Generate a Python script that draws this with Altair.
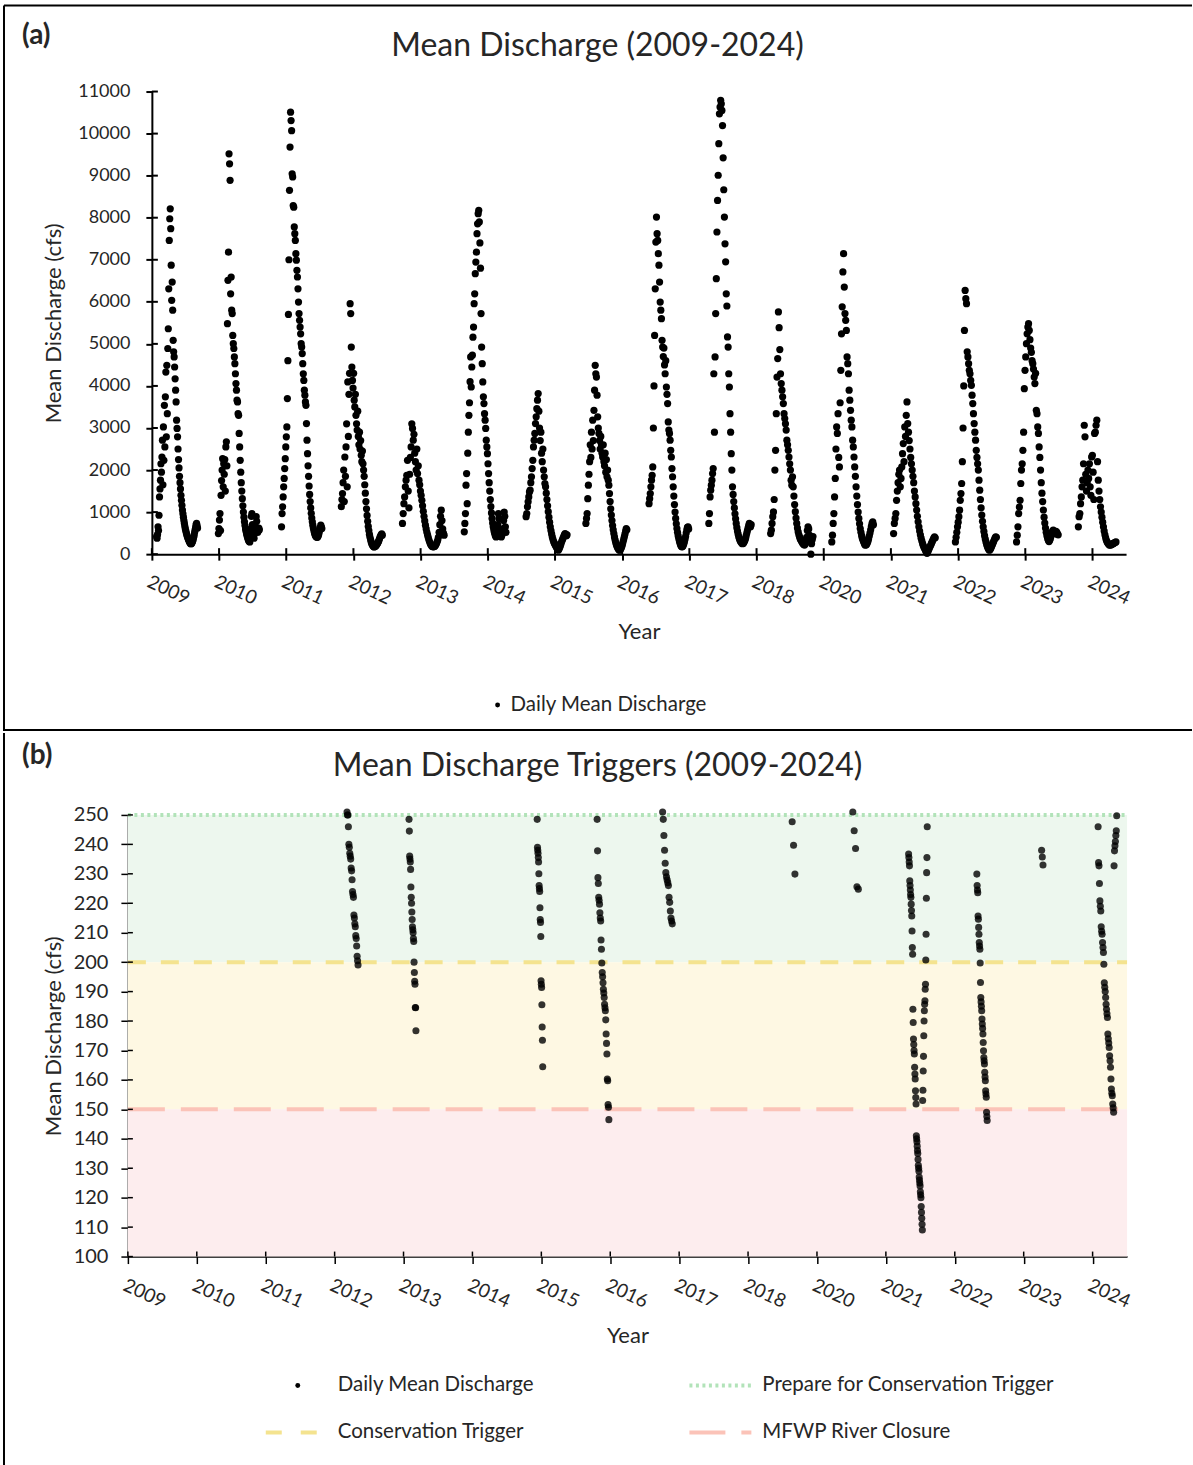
import altair as alt
import pandas as pd

FONT = "Lato"
TEXT = "#262626"

# ---------------------------------------------------------------- categories
YEAR_LABELS = ["2009", "2010", "2011", "2012", "2013", "2014", "2015", "2016",
               "2017", "2018", "2020", "2021", "2022", "2023", "2024"]
TICK_POS = list(range(len(YEAR_LABELS)))
AXIS_END = 14.5
DISCHARGE_TICKS = list(range(0, 11001, 1000))
TRIGGER_TICKS = list(range(100, 251, 10))

# ------------------------------------------- (a) daily mean discharge, cfs
Q2009 = [420, 380, 470, 650, 560, 925, 1360, 1550, 1760, 2150, 1950, 2310, 2710, 1650, 3025, 2230, 3540, 2550,
         3740, 4330, 2790, 4490, 3340, 4890, 5360, 6310, 7460, 7975, 8210, 7740, 6870, 6035, 6470, 5800, 5085,
         4810, 4690, 4450, 4170, 3900, 3620, 3185, 2990, 2790, 2500, 2250, 2050, 1850, 1700, 1550, 1400, 1280,
         1160, 1050, 960, 880, 800, 730, 660, 600, 550, 500, 460, 420, 390, 360, 330, 300, 280, 260, 250, 250,
         260, 280, 310, 350, 400, 450, 520, 580, 640, 700, 730, 680, 620]
Q2010 = [490, 610, 810, 965, 560, 1400, 1750, 2000, 2270, 1600, 2150, 1900, 2250, 1500, 2550, 2670, 2100, 5480,
         6510, 7180, 9520, 9280, 8890, 6190, 6590, 5800, 5720, 5200, 5005, 4890, 4690, 4530, 4290, 4055, 3900,
         3660, 3620, 3340, 3300, 2870, 2550, 2230, 1950, 1700, 1500, 1320, 1150, 1000, 880, 770, 680, 600, 540,
         480, 430, 390, 350, 320, 300, 290, 420, 600, 900, 965, 700, 520, 430, 380, 500, 560, 650, 890, 780,
         600, 520, 560, 620, 580]
Q2011 = [650, 965, 1125, 1360, 1600, 1800, 2035, 2270, 2550, 2790, 3025, 3700, 4600, 5700, 7000, 8650, 9680,
         10510, 10310, 10070, 9045, 8970, 8290, 8250, 7780, 7620, 7460, 7145, 6990, 6750, 6590, 6310, 5995,
         5720, 5560, 5400, 5240, 5005, 4925, 4770, 4530, 4290, 4130, 3900, 3780, 3620, 3540, 3105, 2710, 2390,
         2100, 1850, 1620, 1420, 1250, 1100, 970, 860, 770, 690, 620, 560, 510, 470, 440, 420, 410, 400, 410,
         430, 470, 520, 580, 630, 690, 650, 610]
Q2012 = [1130, 1300, 1440, 1700, 2000, 1250, 2310, 1850, 2550, 3100, 1600, 4095, 2800, 3800, 4300, 5955, 5720,
         4925, 4450, 4130, 3950, 4300, 3660, 3500, 3800, 3300, 3100, 2950, 3400, 2800, 2600, 2900, 2500, 2700,
         2350, 2200, 2450, 2150, 2000, 1850, 1650, 1450, 1250, 1080, 920, 780, 660, 560, 470, 400, 340, 290,
         250, 220, 200, 180, 170, 180, 190, 200, 220, 240, 260, 290, 320, 360, 400, 430, 460, 480, 450]
Q2013 = [730, 965, 1200, 1360, 1600, 1760, 1875, 2230, 1500, 1100, 1900, 2300, 2550, 3100, 2990, 2710, 2850,
         2400, 2200, 2000, 2500, 1915, 2100, 1760, 1650, 1500, 1400, 1280, 1150, 1020, 900, 790, 690, 600, 520,
         450, 390, 330, 280, 240, 210, 190, 180, 175, 180, 190, 210, 240, 280, 330, 400, 520, 700, 900, 1045,
         800, 600, 500, 450]
Q2014 = [530, 730, 965, 1640, 1915, 1200, 2400, 2900, 3300, 3600, 4100, 4690, 3975, 4450, 4730, 5160, 5400,
         5955, 6190, 6670, 6945, 7180, 7620, 7855, 8095, 8175, 7900, 7400, 6800, 5720, 4925, 4530, 4095, 3740,
         3580, 3340, 3185, 2990, 2710, 2550, 2390, 2150, 1915, 1700, 1500, 1300, 1130, 980, 850, 740, 650, 580,
         520, 470, 430, 410, 420, 480, 700, 965, 850, 600, 480, 430, 410, 450, 520, 600, 800, 1000, 900, 650,
         520]
Q2015 = [890, 965, 1125, 1245, 1360, 1480, 1520, 1700, 1840, 2035, 2230, 2550, 2710, 2870, 3105, 3265, 3460,
         3660, 3820, 3400, 3000, 2700, 2900, 2400, 2200, 2500, 2000, 1840, 1680, 1600, 1450, 1300, 1150, 1010,
         880, 760, 650, 560, 480, 410, 350, 300, 260, 230, 200, 170, 140, 110, 95, 120, 160, 200, 250, 300, 340,
         380, 420, 460, 490, 470, 440, 460]
Q2016 = [730, 850, 965, 1320, 1640, 1900, 2200, 2600, 2300, 2900, 2500, 3185, 2700, 3420, 3900, 4490, 4290,
         4210, 3780, 3265, 3000, 2870, 2700, 2500, 2800, 2600, 2400, 2310, 2600, 2200, 2100, 2400, 1950, 2250,
         1840, 2000, 1760, 1640, 1440, 1250, 1080, 930, 800, 680, 580, 490, 410, 340, 280, 230, 190, 160, 130,
         110, 95, 100, 120, 150, 190, 240, 300, 360, 420, 480, 550, 610, 580]
Q2017 = [1200, 1320, 1440, 1600, 1760, 1875, 2075, 3000, 4000, 5200, 6310, 7420, 8015, 7620, 7460, 7145, 6870,
         6470, 5995, 5800, 5600, 5085, 4925, 4700, 4900, 4500, 4290, 4600, 3975, 3800, 3580, 3145, 2950, 2870,
         2710, 2470, 2310, 2035, 1840, 1600, 1380, 1180, 1000, 850, 720, 610, 520, 440, 370, 310, 260, 220,
         190, 175, 180, 200, 240, 290, 350, 420, 500, 580, 640, 650, 600]
Q2018 = [730, 965, 1360, 1520, 1640, 1760, 1915, 2035, 4290, 2900, 4690, 5720, 6550, 7660, 8410, 9010, 9760,
         10470, 10630, 10790, 10710, 10550, 10190, 9425, 8665, 8015, 7380, 6950, 6190, 5900, 5165, 4925, 4290,
         3975, 3340, 2900, 2390, 2000, 1600, 1420, 1250, 1100, 960, 840, 730, 630, 550, 480, 420, 370, 330, 300,
         280, 260, 250, 255, 270, 300, 330, 380, 440, 500, 560, 620, 680, 730, 690, 650, 700]
Q2019 = [490, 570, 730, 890, 1005, 1300, 2000, 2470, 3340, 4210, 4650, 5760, 5385, 4865, 4290, 4055, 3900, 3740,
         3580, 3340, 3225, 3100, 2950, 2710, 2600, 2470, 2310, 2150, 2000, 1760, 1640, 1840, 1600, 1380, 1180,
         1010, 860, 730, 620, 530, 460, 410, 360, 330, 300, 270, 250, 230, 215, 240, 290, 400, 560, 650, 600,
         450, 300, 0, 250, 350, 420]
Q2020 = [290, 450, 730, 965, 1360, 1800, 2500, 3025, 2870, 3340, 2300, 2075, 3600, 4370, 5240, 5880, 6710, 7145,
         6350, 5720, 5560, 5320, 4690, 4530, 4290, 3900, 3660, 3420, 3185, 3025, 2710, 2550, 2310, 2075, 1850,
         1600, 1380, 1180, 1000, 850, 720, 610, 520, 440, 380, 330, 290, 250, 220, 215, 230, 260, 300, 360, 430,
         500, 580, 660, 730, 770, 700]
Q2021 = [490, 730, 850, 965, 1280, 1500, 1700, 1900, 2000, 1600, 1800, 2075, 2390, 2630, 2200, 3025, 2800, 3300,
         3620, 3105, 2900, 2700, 2500, 2300, 2150, 2000, 1850, 1700, 1500, 1360, 1200, 1050, 900, 770, 650, 550,
         460, 380, 310, 250, 200, 160, 120, 80, 55, 20, 60, 100, 140, 180, 220, 260, 300, 340, 380, 410, 390]
Q2022 = [290, 400, 520, 650, 760, 890, 1045, 1280, 1440, 1680, 2200, 3000, 4000, 5320, 6270, 6075, 5955, 4810,
         4690, 4530, 4370, 4290, 4130, 4015, 3780, 3580, 3340, 3105, 2900, 2710, 2470, 2300, 2150, 2000, 1760,
         1520, 1300, 1100, 930, 780, 650, 540, 440, 360, 290, 230, 180, 140, 110, 95, 110, 140, 180, 220, 260,
         300, 340, 380, 410, 400]
Q2023 = [290, 450, 650, 965, 1120, 1280, 1680, 2000, 2150, 2470, 2900, 3935, 4370, 4690, 5005, 5240, 5400, 5480,
         5320, 5100, 4900, 4800, 4600, 4530, 4400, 4210, 4055, 4300, 3420, 3340, 3025, 2870, 2550, 2300, 2000,
         1700, 1450, 1250, 1050, 880, 740, 620, 520, 440, 380, 330, 300, 330, 380, 450, 500, 550, 570, 520, 480,
         500, 540, 520, 480, 460]
Q2024 = [650, 890, 965, 1200, 1360, 1600, 1760, 2150, 3065, 2790, 1900, 1500, 1700, 2000, 1800, 2150, 1600, 1400,
         2310, 2350, 1950, 1300, 2870, 2900, 3065, 3185, 2200, 1760, 1500, 1300, 1125, 1000, 880, 760, 650, 550,
         460, 390, 330, 290, 260, 240, 220, 215, 220, 230, 240, 250, 260, 270, 280, 290]

SEASONS = [Q2009, Q2010, Q2011, Q2012, Q2013, Q2014, Q2015, Q2016,
           Q2017, Q2018, Q2019, Q2020, Q2021, Q2022, Q2023, Q2024]
# first and last record of every season on the category axis (tick units)
SEASON_START = [0.07, 0.99, 1.93, 2.82, 3.73, 4.65, 5.57, 6.46, 7.40, 8.29, 9.21, 10.12, 11.04, 11.96, 12.87, 13.79]
SEASON_END = [0.68, 1.60, 2.53, 3.43, 4.35, 5.27, 6.18, 7.07, 7.99, 8.92, 9.84, 10.74, 11.66, 12.57, 13.49, 14.35]

# ------------------------- (b) days with discharge inside the 100-250 cfs window
LOW_RUN_START = [3.18, 4.08, 5.94, 6.81, 7.76, 9.64, 10.52, 11.33, 12.32, 13.26, 14.08]
LOW_RUN_END = [3.34, 4.18, 6.02, 6.98, 7.90, 9.68, 10.60, 11.60, 12.47, 13.28, 14.35]
LOW_RUNS = [
    [251, 250, 250, 246, 240, 239, 237, 236, 235, 232, 231, 228, 224, 223, 222, 216, 215, 213, 212, 209, 208,
     205.5, 202, 200.5, 199],
    [248.5, 244.5, 236, 235, 234, 231.5, 225.5, 222, 220, 217, 214.5, 212, 211, 210, 208, 207, 200, 196.5, 193.5,
     192.5, 184.6, 184.5, 176.7],
    [248.5, 239, 238, 237, 235.5, 234, 230, 226, 225, 224, 218.5, 214.5, 213.5, 208.7, 193.7, 192.5, 191.4, 185.5,
     178, 173.5, 164.5],
    [248.5, 237.8, 228.7, 226.7, 222, 221, 219.7, 216.8, 215, 214, 207.5, 204.4, 199.7, 196.5, 195, 193, 190.8,
     189.5, 188, 185.7, 184.5, 183.5, 180.4, 175.6, 172.4, 168.8, 160.3, 159.7, 151.6, 150.7, 146.5],
    [251, 248.5, 243, 238, 233.6, 230.4, 229, 228, 227, 226, 222, 220.3, 217.4, 215, 214, 213],
    [247.7, 239.7, 229.9],
    [251, 244.6, 238.6, 225.6, 224.8],
    [236.7, 235.5, 234, 232.7, 227.6, 226, 224.5, 223, 222, 219.7, 217.5, 215.7, 210.6, 205, 202.7, 184, 179.5,
     173.9, 172, 170, 168.8, 164.3, 162, 160.3, 156.3, 154, 151.8, 141, 140, 139, 137.5, 136, 135, 133, 131, 130,
     129, 127, 126, 125, 124, 122, 121, 120, 117, 115, 113, 111, 109, 153, 156.5, 163, 168, 175, 180, 183.5,
     185.7, 186.9, 190.8, 192.5, 200.7, 209.5, 221.7, 230.4, 235.5, 246],
    [229.9, 226, 224.5, 223.6, 215.7, 214.6, 211.8, 209.5, 206.7, 205.5, 204.4, 199.7, 193.1, 188, 186.5, 185,
     183.5, 180.7, 179, 177.5, 175.6, 172.7, 169.9, 167.6, 166.5, 165.4, 162.6, 161, 159.7, 156.3, 155.2, 154.1,
     149, 147.6, 146.2],
    [238, 235.7, 233],
    [246, 233.8, 232.7, 226.7, 220.8, 219, 217.4, 212, 210.5, 209.5, 206.7, 205, 203.3, 199.3, 193, 191.5, 190,
     188, 185.7, 184, 182.5, 181.2, 175.6, 174, 172.5, 171, 168.2, 166.5, 164.3, 160.3, 156.9, 155.5, 154.6,
     151.8, 150.5, 149, 232.7, 237.8, 239.5, 241, 243, 244.6, 249.7],
]

PREPARE_TRIGGER = 250
CONSERVATION_TRIGGER = 200
RIVER_CLOSURE = 150
WINDOW_FLOOR = 100


def spread(starts, ends, runs):
    """Place each run's records evenly between its first and last axis position."""
    rows = []
    for s, e, vals in zip(starts, ends, runs):
        n = len(vals)
        for k, v in enumerate(vals):
            rows.append({"pos": s + (e - s) * k / max(n - 1, 1), "q": v})
    return pd.DataFrame(rows)


df_a = spread(SEASON_START, SEASON_END, SEASONS)
df_b = spread(LOW_RUN_START, LOW_RUN_END, LOW_RUNS)

YEAR_EXPR = "[" + ",".join(f"'{y}'" for y in YEAR_LABELS) + "][datum.value]"
ONE = pd.DataFrame({"k": [0]})


def text_at(txt, x, y, size, align="left", weight="normal"):
    return alt.Chart(ONE).mark_text(
        text=txt, align=align, baseline="middle", fontSize=size, fontWeight=weight, color=TEXT, font=FONT
    ).encode(x=alt.value(x), y=alt.value(y))


def hline(x1, x2, y, color="black", width=2, dash=None):
    kw = {"strokeDash": dash} if dash else {}
    return alt.Chart(ONE).mark_rule(color=color, strokeWidth=width, **kw).encode(
        x=alt.value(x1), x2=alt.value(x2), y=alt.value(y))


def vline(x, y1, y2, color="black", width=2):
    return alt.Chart(ONE).mark_rule(color=color, strokeWidth=width).encode(
        x=alt.value(x), y=alt.value(y1), y2=alt.value(y2))


def dot_at(x, y, size):
    return alt.Chart(ONE).mark_circle(size=size, color="black", opacity=1).encode(
        x=alt.value(x), y=alt.value(y))


def x_axis(font_size, pad, tick, dom_w, **extra):
    return alt.Axis(values=TICK_POS, labelExpr=YEAR_EXPR, labelAngle=25, labelAlign="left",
                    labelBaseline="top", labelFontSize=font_size, labelPadding=pad, labelColor=TEXT,
                    labelOverlap=False, labelFlush=False, labelFont=FONT, tickSize=tick, tickWidth=dom_w,
                    tickColor="black", domainColor="black", domainWidth=dom_w, grid=False,
                    title="Year", titleFontSize=22, titleFontWeight="normal", titleColor=TEXT,
                    titleFont=FONT, titlePadding=14, **extra)


def y_axis(values, font_size, pad, tick, dom_w, title_pad, **extra):
    return alt.Axis(values=values, format="d", labelFontSize=font_size, labelPadding=pad, labelColor=TEXT,
                    labelFont=FONT, tickSize=tick, tickWidth=dom_w, tickColor="black", domainColor="black",
                    domainWidth=dom_w, grid=False, title="Mean Discharge (cfs)", titleFontSize=22,
                    titleFontWeight="normal", titleColor=TEXT, titleFont=FONT, titlePadding=title_pad, **extra)


# Both panels share one left edge; panel (a) keeps its axes 24 px further in,
# since its tick labels are wider.
INSET = 24

# ------------------------------------------------------------------ panel (a)
W_A, H_A = 975 + INSET, 463
xs_a = alt.Scale(domain=[0, AXIS_END], nice=False, zero=False, range=[INSET, W_A])
ys_a = alt.Scale(domain=[0, 11000], nice=False)
XA = x_axis(19, 12, 6, 2, titleX=INSET + 975 / 2)
YA = y_axis(DISCHARGE_TICKS, 18, 16, 6, 2, 12, offset=-INSET)

points_a = alt.Chart(df_a).mark_circle(size=52, color="black", opacity=1).encode(
    x=alt.X("pos:Q", scale=xs_a, axis=XA),
    y=alt.Y("q:Q", scale=ys_a, axis=YA),
)
inner_y_a = alt.Chart(pd.DataFrame({"q": DISCHARGE_TICKS})).mark_rule(color="black", strokeWidth=2).encode(
    y=alt.Y("q:Q", scale=ys_a, axis=YA), x=alt.value(INSET), x2=alt.value(INSET + 6))
inner_x_a = alt.Chart(pd.DataFrame({"pos": TICK_POS})).mark_rule(color="black", strokeWidth=2).encode(
    x=alt.X("pos:Q", scale=xs_a, axis=XA), y=alt.value(H_A), y2=alt.value(H_A - 6))

panel_a = alt.layer(
    points_a, inner_y_a, inner_x_a,
    hline(-124, 1065, -86), vline(-124, -86, 640), hline(-124, 1065, 639),
    text_at("(a)", -106, -56, 28, weight="bold"),
    text_at("Mean Discharge (2009-2024)", 470, -46, 32, align="center"),
    dot_at(370, 614, 24),
    text_at("Daily Mean Discharge", 383, 614, 20.5),
).properties(width=W_A, height=H_A)

# ------------------------------------------------------------------ panel (b)
W_B, H_B = 1000, 442
xs_b = alt.Scale(domain=[0, AXIS_END], nice=False, zero=False)
ys_b = alt.Scale(domain=[WINDOW_FLOOR, PREPARE_TRIGGER], nice=False, zero=False)
XB = x_axis(19, 12, 7, 1.5)
YB = y_axis(TRIGGER_TICKS, 20, 13, 7, 1.5, 8)

zones = pd.DataFrame({
    "zone": ["prepare", "conserve", "closure"],
    "lo": [CONSERVATION_TRIGGER, RIVER_CLOSURE, WINDOW_FLOOR],
    "hi": [PREPARE_TRIGGER, CONSERVATION_TRIGGER, RIVER_CLOSURE],
    "x0": [0, 0, 0],
    "x1": [AXIS_END] * 3,
})
bands = alt.Chart(zones).mark_rect(opacity=1).encode(
    x=alt.X("x0:Q", scale=xs_b, axis=XB), x2="x1:Q",
    y=alt.Y("lo:Q", scale=ys_b, axis=YB), y2="hi:Q",
    color=alt.Color("zone:N", legend=None, scale=alt.Scale(
        domain=["prepare", "conserve", "closure"], range=["#EDF7EE", "#FEF8E3", "#FDEDEE"])),
)


def trigger_line(level, color, width, dash):
    return alt.Chart(pd.DataFrame({"q": [level], "x0": [0], "x1": [AXIS_END]})).mark_rule(
        color=color, strokeWidth=width, strokeDash=dash).encode(
        x=alt.X("x0:Q", scale=xs_b, axis=XB), x2="x1:Q",
        y=alt.Y("q:Q", scale=ys_b, axis=YB))


points_b = alt.Chart(df_b).mark_circle(size=50, color="black", opacity=0.8).encode(
    x=alt.X("pos:Q", scale=xs_b, axis=XB),
    y=alt.Y("q:Q", scale=ys_b, axis=YB),
)
inner_y_b = alt.Chart(pd.DataFrame({"q": TRIGGER_TICKS})).mark_rule(color="black", strokeWidth=1.5).encode(
    y=alt.Y("q:Q", scale=ys_b, axis=YB), x=alt.value(0), x2=alt.value(5))
inner_x_b = alt.Chart(pd.DataFrame({"pos": TICK_POS})).mark_rule(color="black", strokeWidth=1.5).encode(
    x=alt.X("pos:Q", scale=xs_b, axis=XB), y=alt.value(H_B), y2=alt.value(H_B - 5))

GREEN, YELLOW, PINK = "#B2E3B9", "#F4E38F", "#FBC3B8"
DOTTED = [3, 3.5]

panel_b = alt.layer(
    bands,
    trigger_line(PREPARE_TRIGGER, GREEN, 4, DOTTED),
    trigger_line(CONSERVATION_TRIGGER, YELLOW, 4, [18, 15]),
    trigger_line(RIVER_CLOSURE, PINK, 4, [37, 16]),
    points_b, inner_y_b, inner_x_b,
    vline(-124, -82, 651),
    text_at("(b)", -106, -59, 28, weight="bold"),
    text_at("Mean Discharge Triggers (2009-2024)", 470, -49, 32, align="center"),
    dot_at(170, 571, 24),
    text_at("Daily Mean Discharge", 210, 571, 20.5),
    hline(562, 624, 571, GREEN, 4, DOTTED),
    text_at("Prepare for Conservation Trigger", 635, 571, 20.5),
    hline(138, 190, 618, YELLOW, 4, [16, 19]),
    text_at("Conservation Trigger", 210, 618, 20.5),
    hline(562, 624, 618, PINK, 4, [36, 16]),
    text_at("MFWP River Closure", 635, 618, 20.5),
).properties(width=W_B, height=H_B)

chart = alt.concat(panel_a, panel_b, columns=1, spacing=0).properties(
    padding={"left": 3, "top": 4, "right": 0, "bottom": 0}
).configure(font=FONT).configure_view(strokeWidth=0)

chart.save("out.html", embed_options={"renderer": "svg", "actions": False})
